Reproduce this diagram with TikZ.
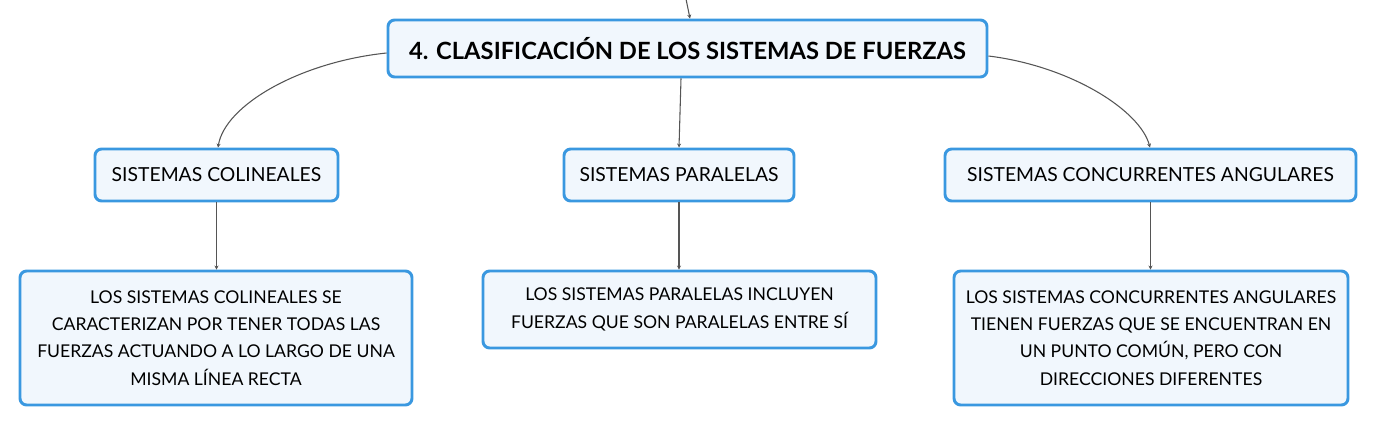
\documentclass[tikz,border=0pt]{standalone}
\usepackage{fontspec}
\setmainfont{Lato}
\usetikzlibrary{arrows.meta}
\definecolor{bordblue}{HTML}{3A98E0}
\definecolor{fillblue}{HTML}{F1F7FD}
\definecolor{linegray}{HTML}{555555}
\begin{document}
\begin{tikzpicture}[x=0.75pt,y=-0.75pt,
  box/.style={draw=bordblue,fill=fillblue,line width=2.2pt,rounded corners=5pt,inner sep=0pt,align=center},
  conn/.style={draw=linegray,line width=0.8pt,-{Stealth[length=3pt,width=3pt]}},
  txtA/.style={font=\fontsize{17.8pt}{20pt}\selectfont\bfseries},
  txtB/.style={font=\fontsize{14.5pt}{17pt}\selectfont},
  txtC/.style={font=\fontsize{13.2pt}{20.5pt}\selectfont}]
\useasboundingbox (0,0) rectangle (1377,426);
\node[box,txtA,minimum width=449.25pt,minimum height=42.75pt] (title) at (687.5,48.5) {4. CLASIFICACIÓN DE LOS SISTEMAS DE FUERZAS};
\node[box,txtB,minimum width=182.25pt,minimum height=39pt] (col) at (216.5,175) {SISTEMAS COLINEALES};
\node[box,txtB,minimum width=172.5pt,minimum height=39pt] (par) at (679,175) {SISTEMAS PARALELAS};
\node[box,txtB,minimum width=308.25pt,minimum height=39pt] (con) at (1150.5,175) {SISTEMAS CONCURRENTES ANGULARES};
\node[box,txtC,minimum width=294pt,minimum height=100.5pt] (colD) at (216,338) {LOS SISTEMAS COLINEALES SE\\CARACTERIZAN POR TENER TODAS LAS\\FUERZAS ACTUANDO A LO LARGO DE UNA\\MISMA LÍNEA RECTA};
\node[box,txtC,minimum width=294.75pt,minimum height=57.75pt] (parD) at (679.5,309.5) {LOS SISTEMAS PARALELAS INCLUYEN\\FUERZAS QUE SON PARALELAS ENTRE SÍ};
\node[box,txtC,minimum width=295.5pt,minimum height=100.5pt] (conD) at (1151,338) {LOS SISTEMAS CONCURRENTES ANGULARES\\TIENEN FUERZAS QUE SE ENCUENTRAN EN\\UN PUNTO COMÚN, PERO CON\\DIRECCIONES DIFERENTES};
\coordinate (topin) at (686,-1);
\draw[conn] (topin) -- (title.north -| 690,0);
\draw[conn] (title.west |- 0,53) .. controls (300,62) and (225,105) .. (col.north -| 218,0);
\draw[conn] (title.south -| 681,0) -- (par.north -| 679,0);
\draw[conn] (title.east |- 0,56) .. controls (1070,66) and (1140,110) .. (con.north -| 1150,0);
\draw[conn] (col.south) -- (colD.north -| col.south);
\draw[conn] (par.south) -- (parD.north -| par.south);
\draw[conn] (con.south) -- (conD.north -| con.south);
\end{tikzpicture}
\end{document}
